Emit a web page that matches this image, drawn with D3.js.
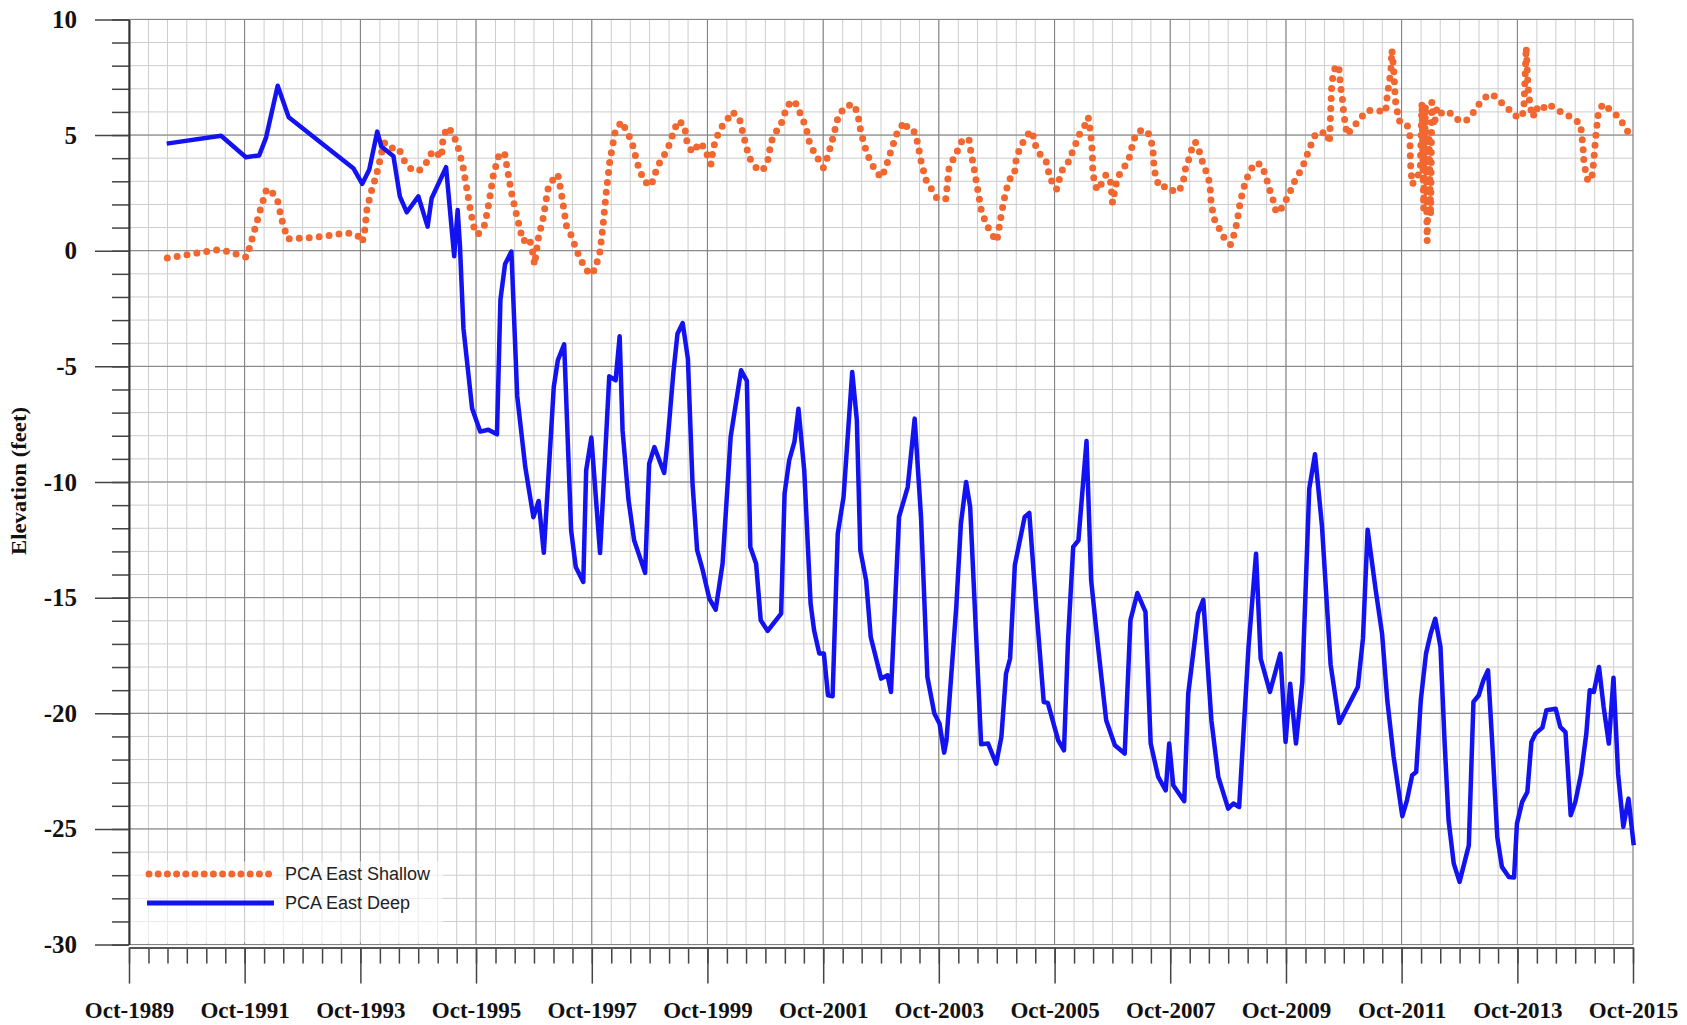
<!DOCTYPE html>
<html>
<head>
<meta charset="utf-8">
<script src="https://cdn.jsdelivr.net/npm/d3@7"></script>
<style>
  body { margin: 0; background: #fff; }
</style>
</head>
<body>
<div id="chart"></div>
<script>
// Dataset (dates as decimal years, elevations in feet)
const shallowYears = [
    1990.41, 1990.93, 1991.28, 1991.45, 1991.63, 1991.78, 1991.84, 1991.93, 1992.03, 1992.13,
    1992.22, 1992.32, 1992.39, 1992.49, 1992.84, 1993.18, 1993.53, 1993.70, 1993.78, 1993.82,
    1993.86, 1993.93, 1994.02, 1994.09, 1994.15, 1994.20, 1994.31, 1994.41, 1994.51, 1994.63,
    1994.76, 1994.89, 1995.00, 1995.09, 1995.15, 1995.17, 1995.24, 1995.34, 1995.43, 1995.52,
    1995.59, 1995.66, 1995.72, 1995.78, 1995.90, 1995.97, 1996.05, 1996.14, 1996.24, 1996.30,
    1996.36, 1996.44, 1996.56, 1996.67, 1996.73, 1996.76, 1996.82, 1996.91, 1996.99, 1997.08,
    1997.16, 1997.22, 1997.31, 1997.40, 1997.48, 1997.57, 1997.71, 1997.80, 1997.89, 1997.94,
    1998.00, 1998.06, 1998.15, 1998.26, 1998.38, 1998.45, 1998.54, 1998.65, 1998.77, 1998.89,
    1999.06, 1999.17, 1999.24, 1999.35, 1999.40, 1999.49, 1999.62, 1999.69, 1999.81, 1999.85,
    1999.92, 2000.01, 2000.10, 2000.18, 2000.30, 2000.38, 2000.47, 2000.59, 2000.70, 2000.79,
    2000.85, 2000.93, 2001.02, 2001.13, 2001.25, 2001.33, 2001.45, 2001.51, 2001.59, 2001.68,
    2001.75, 2001.82, 2001.91, 2002.00, 2002.11, 2002.26, 2002.34, 2002.40, 2002.49, 2002.57,
    2002.66, 2002.75, 2002.83, 2002.92, 2003.02, 2003.15, 2003.23, 2003.32, 2003.38, 2003.44,
    2003.52, 2003.64, 2003.72, 2003.87, 2003.92, 2004.01, 2004.10, 2004.16, 2004.27, 2004.30,
    2004.36, 2004.42, 2004.48, 2004.56, 2004.65, 2004.75, 2004.81, 2004.87, 2004.91, 2004.97,
    2005.05, 2005.08, 2005.14, 2005.23, 2005.34, 2005.40, 2005.43, 2005.52, 2005.60, 2005.66,
    2005.72, 2005.78, 2005.87, 2005.98, 2006.10, 2006.18, 2006.27, 2006.33, 2006.37, 2006.40,
    2006.41, 2006.48, 2006.57, 2006.64, 2006.72, 2006.75, 2006.81, 2006.87, 2006.95, 2007.04,
    2007.12, 2007.21, 2007.35, 2007.42, 2007.45, 2007.47, 2007.52, 2007.58, 2007.69, 2007.84,
    2007.92, 2007.98, 2008.01, 2008.07, 2008.12, 2008.18, 2008.24, 2008.30, 2008.41, 2008.44,
    2008.45, 2008.50, 2008.59, 2008.66, 2008.79, 2008.87, 2008.91, 2008.96, 2009.05, 2009.13,
    2009.20, 2009.32, 2009.39, 2009.48, 2009.54, 2009.58, 2009.68, 2009.77, 2009.85, 2009.91,
    2010.00, 2010.07, 2010.14, 2010.20, 2010.27, 2010.37, 2010.46, 2010.50, 2010.52, 2010.54,
    2010.60, 2010.66, 2010.69, 2010.72, 2010.75, 2010.78, 2010.80, 2010.92, 2011.03, 2011.15,
    2011.32, 2011.47, 2011.50, 2011.56, 2011.58, 2011.61, 2011.64, 2011.67, 2011.70, 2011.84,
    2011.89, 2011.90, 2011.93, 2012.02, 2012.07, 2012.10, 2012.13, 2012.16, 2012.19, 2012.22,
    2012.25, 2012.27, 2012.31, 2012.36, 2012.45, 2012.57, 2012.68, 2012.85, 2012.97, 2013.09,
    2013.20, 2013.31, 2013.43, 2013.57, 2013.69, 2013.83, 2013.86, 2013.90, 2013.93, 2013.95,
    2013.97, 2014.02, 2014.06, 2014.15, 2014.26, 2014.41, 2014.55, 2014.69, 2014.84, 2014.86,
    2014.88, 2014.90, 2014.96, 2015.02, 2015.05, 2015.08, 2015.11, 2015.15, 2015.23, 2015.35,
    2015.50, 2015.59, 2015.69
];
const shallowElev = [
    -0.32, -0.10, 0.04, -0.03, -0.17, -0.28, 0.19, 0.99, 1.86, 2.68,
    2.54, 2.14, 1.35, 0.51, 0.55, 0.65, 0.77, 0.65, 0.36, 0.84,
    1.78, 2.51, 3.23, 3.96, 4.65, 4.68, 4.42, 4.42, 3.88, 3.52,
    3.45, 3.81, 4.32, 4.17, 4.03, 4.68, 5.33, 5.12, 4.54, 3.67,
    2.65, 1.64, 0.91, 0.70, 1.13, 2.07, 3.30, 4.10, 4.25, 3.38,
    2.51, 1.64, 0.41, 0.55, -0.10, -0.61, 0.48, 1.42, 2.65, 3.09,
    3.30, 2.51, 1.06, 0.62, 0.04, -0.46, -1.04, -0.83, -0.03, 1.06,
    2.58, 3.88, 5.12, 5.58, 5.04, 4.61, 3.74, 3.01, 2.80, 3.67,
    4.39, 5.19, 5.62, 5.43, 4.61, 4.25, 4.68, 4.46, 3.74, 4.46,
    4.97, 5.41, 5.70, 6.01, 5.72, 4.90, 4.03, 3.59, 3.45, 3.88,
    4.71, 5.12, 5.48, 6.28, 6.49, 6.06, 5.33, 4.68, 4.25, 3.88,
    3.59, 4.03, 4.83, 5.72, 6.20, 6.35, 5.99, 5.12, 4.32, 3.81,
    3.45, 3.16, 3.59, 4.32, 5.04, 5.58, 5.19, 5.14, 4.68, 3.88,
    3.09, 2.58, 2.25, 2.25, 3.52, 4.03, 4.46, 4.83, 4.80, 4.32,
    3.52, 2.65, 1.78, 1.20, 0.77, 0.41, 1.28, 2.14, 2.58, 3.09,
    3.23, 3.88, 4.39, 4.83, 5.19, 4.83, 4.39, 4.10, 3.88, 3.23,
    2.87, 2.65, 3.45, 3.81, 4.54, 5.04, 5.41, 5.77, 5.12, 4.25,
    3.30, 2.62, 2.94, 3.30, 2.94, 2.07, 2.87, 3.30, 3.59, 4.03,
    4.83, 5.19, 5.19, 4.75, 4.32, 3.52, 3.01, 2.72, 2.80, 2.51,
    2.68, 3.09, 3.52, 3.96, 4.39, 4.71, 4.39, 3.88, 3.16, 2.65,
    2.22, 1.42, 0.99, 0.62, 0.26, 0.84, 1.35, 2.14, 3.01, 3.45,
    3.78, 3.74, 3.30, 2.51, 2.07, 1.64, 1.86, 2.29, 2.72, 3.09,
    3.45, 3.84, 4.32, 4.71, 5.09, 5.09, 5.12, 4.65, 5.99, 7.29,
    7.94, 8.01, 7.14, 6.64, 5.84, 5.41, 5.01, 5.38, 5.70, 6.06,
    6.06, 5.99, 6.71, 7.72, 8.67, 7.87, 6.49, 6.06, 5.62, 5.48,
    4.97, 3.81, 2.87, 3.16, 3.52, 6.40, 1.80, 6.30, 0.41, 5.00,
    1.50, 6.42, 5.40, 6.20, 5.91, 5.99, 5.70, 5.58, 5.91, 6.35,
    6.64, 6.78, 6.49, 6.20, 5.84, 5.77, 6.20, 8.81, 7.14, 6.64,
    6.20, 5.77, 6.20, 6.01, 6.35, 6.16, 5.91, 5.77, 5.48, 4.97,
    4.61, 3.74, 3.09, 3.01, 3.38, 4.25, 5.12, 5.99, 6.35, 6.10,
    5.77, 5.43, 5.01
];

const deepYears = [
    1990.40, 1991.34, 1991.77, 1992.00, 1992.12, 1992.32, 1992.51, 1993.63, 1993.78, 1993.90,
    1994.04, 1994.11, 1994.32, 1994.43, 1994.55, 1994.75, 1994.91, 1994.98, 1995.23, 1995.37,
    1995.43, 1995.47, 1995.53, 1995.68, 1995.82, 1995.96, 1996.11, 1996.17, 1996.25, 1996.36,
    1996.46, 1996.60, 1996.74, 1996.83, 1996.92, 1997.09, 1997.16, 1997.27, 1997.39, 1997.47,
    1997.60, 1997.65, 1997.74, 1997.89, 1998.05, 1998.16, 1998.23, 1998.28, 1998.38, 1998.48,
    1998.67, 1998.74, 1998.83, 1999.00, 1999.06, 1999.16, 1999.23, 1999.32, 1999.41, 1999.49,
    1999.57, 1999.66, 1999.78, 1999.89, 2000.01, 2000.15, 2000.33, 2000.43, 2000.49, 2000.59,
    2000.67, 2000.79, 2001.02, 2001.08, 2001.16, 2001.25, 2001.32, 2001.42, 2001.53, 2001.59,
    2001.68, 2001.76, 2001.83, 2001.91, 2002.00, 2002.10, 2002.25, 2002.33, 2002.39, 2002.49,
    2002.57, 2002.75, 2002.86, 2002.92, 2003.06, 2003.21, 2003.33, 2003.44, 2003.55, 2003.67,
    2003.76, 2003.84, 2003.88, 2004.05, 2004.13, 2004.22, 2004.29, 2004.37, 2004.48, 2004.60,
    2004.74, 2004.83, 2004.91, 2004.98, 2005.06, 2005.23, 2005.31, 2005.43, 2005.56, 2005.63,
    2005.81, 2005.91, 2005.98, 2006.07, 2006.16, 2006.24, 2006.30, 2006.38, 2006.50, 2006.64,
    2006.79, 2006.96, 2007.06, 2007.18, 2007.32, 2007.41, 2007.54, 2007.67, 2007.73, 2007.80,
    2007.99, 2008.06, 2008.23, 2008.32, 2008.46, 2008.58, 2008.75, 2008.84, 2008.94, 2009.10,
    2009.23, 2009.31, 2009.47, 2009.65, 2009.74, 2009.82, 2009.92, 2010.03, 2010.15, 2010.25,
    2010.37, 2010.52, 2010.67, 2010.99, 2011.08, 2011.16, 2011.30, 2011.41, 2011.50, 2011.61,
    2011.76, 2011.84, 2011.93, 2012.00, 2012.08, 2012.17, 2012.25, 2012.33, 2012.42, 2012.49,
    2012.56, 2012.65, 2012.75, 2012.91, 2012.99, 2013.08, 2013.16, 2013.24, 2013.31, 2013.40,
    2013.48, 2013.60, 2013.69, 2013.74, 2013.83, 2013.92, 2013.99, 2014.06, 2014.18, 2014.25,
    2014.41, 2014.49, 2014.58, 2014.67, 2014.75, 2014.85, 2014.94, 2015.00, 2015.07, 2015.16,
    2015.24, 2015.33, 2015.41, 2015.49, 2015.58, 2015.67, 2015.76
];
const deepElev = [
    4.63, 4.97, 4.04, 4.12, 4.90, 7.13, 5.77, 3.55, 2.89, 3.50,
    5.15, 4.50, 4.08, 2.35, 1.66, 2.35, 1.04, 2.27, 3.61, -0.24,
    1.76, 0.19, -3.35, -6.82, -7.82, -7.74, -7.94, -2.12, -0.58, -0.04,
    -6.28, -9.36, -11.52, -10.82, -13.06, -5.90, -4.74, -4.05, -12.09, -13.67,
    -14.32, -9.50, -8.08, -13.07, -5.43, -5.60, -3.70, -7.77, -10.72, -12.52,
    -13.93, -9.21, -8.49, -9.61, -8.20, -5.24, -3.59, -3.13, -4.67, -10.07,
    -12.95, -13.75, -15.04, -15.52, -13.53, -8.05, -5.17, -5.63, -12.81, -13.53,
    -15.98, -16.44, -15.69, -10.50, -9.06, -8.27, -6.83, -9.50, -15.26, -16.41,
    -17.42, -17.42, -19.22, -19.26, -12.23, -10.65, -5.24, -7.33, -12.95, -14.25,
    -16.70, -18.50, -18.36, -19.08, -11.51, -10.22, -7.26, -11.51, -18.43, -20.01,
    -20.45, -21.70, -21.17, -15.40, -11.80, -10.00, -11.08, -15.40, -21.34, -21.31,
    -22.18, -21.02, -18.29, -17.64, -13.60, -11.51, -11.34, -15.40, -19.51, -19.55,
    -21.17, -21.60, -16.84, -12.81, -12.52, -10.07, -8.23, -14.25, -17.13, -20.30,
    -21.38, -21.74, -15.98, -14.80, -15.62, -21.31, -22.75, -23.33, -21.31, -23.11,
    -23.80, -19.15, -15.69, -15.09, -20.30, -22.75, -24.12, -23.90, -24.05, -17.13,
    -13.10, -17.64, -19.08, -17.42, -21.24, -18.72, -21.31, -18.65, -10.30, -8.80,
    -11.90, -17.90, -20.42, -18.86, -16.75, -12.06, -14.68, -16.56, -19.44, -21.89,
    -24.45, -23.76, -22.68, -22.54, -19.44, -17.42, -16.56, -15.91, -17.13, -21.17,
    -24.63, -26.50, -27.29, -25.71, -19.51, -19.22, -18.57, -18.14, -21.17, -25.35,
    -26.64, -27.08, -27.10, -24.77, -23.83, -23.40, -21.24, -20.88, -20.62, -19.87,
    -19.80, -20.59, -20.81, -24.41, -23.83, -22.61, -20.88, -19.00, -19.08, -18.00,
    -19.73, -21.31, -18.46, -22.61, -24.91, -23.69, -25.71
];

const seriesNames = ['PCA East Shallow', 'PCA East Deep'];
const seriesColors = ['#f2662f', '#1212f2'];
const yLabelTicks = [10, 5, 0, -5, -10, -15, -20, -25, -30];
const yDomain = [-30, 10];
const xStart = new Date(1989, 9, 1);   // Oct-1989
const xEnd = new Date(2015, 9, 1);     // Oct-2015

// decimal year -> Date
function toDate(t) {
    const yr = Math.floor(t);
    const start = new Date(yr, 0, 1).getTime();
    return new Date(start + (t - yr) * 365.25 * 864e5);
}

const shallow = shallowYears.map((t, i) => ({ date: toDate(t), v: shallowElev[i] }));
const deep = deepYears.map((t, i) => ({ date: toDate(t), v: deepElev[i] }));

// Margin convention
const margin = { top: 19.4, right: 54, bottom: 80.4, left: 129 };
const width = 1687 - margin.left - margin.right;
const height = 1025 - margin.top - margin.bottom;

const svg = d3.select('#chart')
    .append('svg')
    .attr('width', width + margin.left + margin.right)
    .attr('height', height + margin.top + margin.bottom)
    .append('g')
    .attr('transform', `translate(${margin.left}, ${margin.top})`);

const x = d3.scaleTime().domain([xStart, xEnd]).range([0, width]);
const y = d3.scaleLinear().domain(yDomain).range([height, 0]);

const minorDates = d3.timeMonth.range(xStart, d3.timeDay.offset(xEnd, 1), 4);
const majorDates = d3.timeMonth.range(xStart, d3.timeDay.offset(xEnd, 1), 24);
const minorVals = d3.range(yDomain[0], yDomain[1] + 1, 1);

// Grid: minor then major
const grid = svg.append('g').attr('class', 'grid');

grid.selectAll('.vminor')
    .data(minorDates)
    .join('line')
    .attr('class', 'vminor')
    .attr('x1', d => x(d)).attr('x2', d => x(d))
    .attr('y1', 0).attr('y2', height)
    .attr('stroke', '#cdcdcd')
    .attr('stroke-width', 1);

grid.selectAll('.hminor')
    .data(minorVals)
    .join('line')
    .attr('class', 'hminor')
    .attr('x1', 0).attr('x2', width)
    .attr('y1', d => y(d)).attr('y2', d => y(d))
    .attr('stroke', '#cdcdcd')
    .attr('stroke-width', 1);

grid.selectAll('.vmajor')
    .data(majorDates)
    .join('line')
    .attr('class', 'vmajor')
    .attr('x1', d => x(d)).attr('x2', d => x(d))
    .attr('y1', 0).attr('y2', height)
    .attr('stroke', '#7d7d7d')
    .attr('stroke-width', 1);

grid.selectAll('.hmajor')
    .data(yLabelTicks)
    .join('line')
    .attr('class', 'hmajor')
    .attr('x1', 0).attr('x2', width)
    .attr('y1', d => y(d)).attr('y2', d => y(d))
    .attr('stroke', '#7d7d7d')
    .attr('stroke-width', 1);

// Legend backdrop (fades the grid behind it)
svg.append('rect')
    .attr('x', 1)
    .attr('y', y(-26.4))
    .attr('width', 313)
    .attr('height', y(-30) - y(-26.4) - 2)
    .attr('fill', '#fff')
    .attr('opacity', 0.6);

// Lines
const line = d3.line()
    .x(d => x(d.date))
    .y(d => y(d.v));

svg.append('path')
    .datum(shallow)
    .attr('d', line)
    .attr('fill', 'none')
    .attr('stroke', seriesColors[0])
    .attr('stroke-width', 7)
    .attr('stroke-linecap', 'round')
    .attr('stroke-dasharray', '0 10');

svg.append('path')
    .datum(deep)
    .attr('d', line)
    .attr('fill', 'none')
    .attr('stroke', seriesColors[1])
    .attr('stroke-width', 4.5)
    .attr('stroke-linejoin', 'round');

// Y axis: minor ticks, then major with labels
svg.append('g')
    .call(d3.axisLeft(y).tickValues(minorVals).tickSize(17).tickSizeOuter(0).tickFormat(''))
    .call(g => g.select('.domain').remove())
    .selectAll('line').attr('stroke', '#444').attr('stroke-width', 1.5);

const yAxis = svg.append('g')
    .call(d3.axisLeft(y).tickValues(yLabelTicks).tickSize(34).tickSizeOuter(0).tickPadding(18).tickFormat(d => String(d)));
yAxis.select('.domain').attr('stroke', '#333').attr('stroke-width', 2);
yAxis.selectAll('line').attr('stroke', '#444').attr('stroke-width', 1.5);
yAxis.selectAll('text')
    .attr('font-family', '"Liberation Serif", "Times New Roman", serif')
    .attr('font-weight', 'bold')
    .attr('font-size', 25)
    .attr('fill', '#111');

// X axis
const xAxisY = height + 3;

svg.append('g')
    .attr('transform', `translate(0, ${xAxisY})`)
    .call(d3.axisBottom(x).tickValues(minorDates).tickSize(16).tickSizeOuter(0).tickFormat(''))
    .call(g => g.select('.domain').remove())
    .selectAll('line').attr('stroke', '#444').attr('stroke-width', 1.5);

const xAxis = svg.append('g')
    .attr('transform', `translate(0, ${xAxisY})`)
    .call(d3.axisBottom(x).tickValues(majorDates).tickSize(36).tickSizeOuter(0).tickFormat(d3.timeFormat('%b-%Y')));
xAxis.select('.domain').attr('stroke', '#555').attr('stroke-width', 2);
xAxis.selectAll('line').attr('stroke', '#444').attr('stroke-width', 1.5);
xAxis.selectAll('text')
    .attr('y', 70.4)
    .attr('dy', 0)
    .attr('font-family', '"Liberation Serif", "Times New Roman", serif')
    .attr('font-weight', 'bold')
    .attr('font-size', 23)
    .attr('fill', '#111');

// Y axis title
svg.append('text')
    .attr('transform', `translate(${19 - margin.left}, ${481 - margin.top}) rotate(-90)`)
    .attr('text-anchor', 'middle')
    .attr('dominant-baseline', 'central')
    .attr('font-family', '"Liberation Serif", "Times New Roman", serif')
    .attr('font-weight', 'bold')
    .attr('font-size', 20)
    .attr('textLength', 148)
    .attr('lengthAdjust', 'spacingAndGlyphs')
    .attr('fill', '#111')
    .text('Elevation (feet)');

// Legend
const legend = svg.append('g')
    .attr('transform', `translate(17, ${874 - margin.top})`);

const legendItem = legend.selectAll('g')
    .data(seriesNames)
    .join('g')
    .attr('transform', (d, i) => `translate(0, ${i * 29})`);

legendItem.append('line')
    .attr('x1', (d, i) => i === 0 ? 3 : 1)
    .attr('x2', 128)
    .attr('y1', 0).attr('y2', 0)
    .attr('stroke', (d, i) => seriesColors[i])
    .attr('stroke-width', (d, i) => i === 0 ? 7 : 5)
    .attr('stroke-linecap', (d, i) => i === 0 ? 'round' : 'butt')
    .attr('stroke-dasharray', (d, i) => i === 0 ? '0 9.2' : null);

legendItem.append('text')
    .attr('x', 139)
    .attr('y', 0)
    .attr('dominant-baseline', 'central')
    .attr('font-family', '"Liberation Sans", Arial, sans-serif')
    .attr('font-size', 18)
    .attr('fill', '#222')
    .text(d => d);
</script>
</body>
</html>
